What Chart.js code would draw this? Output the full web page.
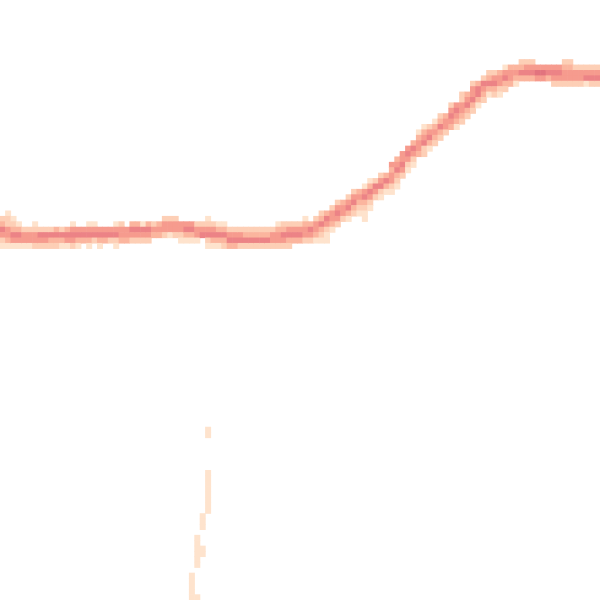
<!DOCTYPE html>
<html>
<head>
<meta charset="utf-8">
<script src="https://cdn.jsdelivr.net/npm/chart.js@4/dist/chart.umd.min.js"></script>
<style>
html,body{margin:0;padding:0;background:#fff;overflow:hidden;}
#wrap{width:600px;height:600px;position:relative;}
</style>
</head>
<body>
<div id="wrap"><canvas id="c"></canvas></div>
<script>
// Grid of the 2D density histogram (bins along x and y)
const gridCols = 111;
const gridRows = 111;

// Colour levels of the density (0 = empty)
const levelColors = ['rgba(0,0,0,0)', '#fee3cd', '#fdcfb6', '#fbb59e', '#f69b8e', '#ec8386', '#e2737e'];

// Per column: first occupied row (from top) and the density level of each consecutive row
const columnTop = [
  40,39,40,41,42,42,41,42,42,42, 42,42,42,41,42,42,41,41,42,42,
  42,41,41,42,41,41,41,41,41,41, 40,40,40,41,41,41,41,41,40,41,
  41,41,42,42,42,42,42,42,42,42, 42,41,41,41,41,41,40,41,40,39,
  39,38,37,37,36,35,35,34,33,33, 32,32,30,29,28,27,26,24,23,23,
  22,21,21,19,19,17,17,15,15,14, 13,13,13,12,12,12,11,11,11,12,
  12,12,12,12,11,11,12,12,12,12, 12
];
const columnLevels = [
  "235421","1224431","123541","13541","2441","2441","12442","2542","2542","2532",
  "3532","2531","3541","14542","4531","453","14531","1452","4531","453",
  "452","14521","2443","443","3542","3542","1542","3542","243","343",
  "2442","2441","2442","4421","4531","4531","2441","245","124521","24531",
  "13531","13532","2453","2453","2452","2352","2352","2352","2352","2352",
  "2442","13442","23542","24532","2453","2453","13442","3542","24431","235321",
  "354211","24431","24542","3442","24531","24532","34321","1453211","135421","2542",
  "24521","3531","434421","345321","44542","45421","35421","13443","134522","24531",
  "13432","23532","3442","24543","45431","224432","34532","244532","35531","25432",
  "23531","24532","34421","14532","3443","3431","2353","2453","2453","464",
  "464","453","4542","4542","23442","23442","2442","2442","2451","2452",
  "2452"
];

// Sparse isolated bins below the main band
const strayCols   = [38,38, 38,38,38,38,38,38,38,38, 37,37,37, 36,36,36,37,37,36,36,36, 35,35,35,35,35,36];
const strayRows   = [79,80, 87,88,89,90,91,92,93,94, 95,96,97, 99,100,101,101,102,102,103,104, 106,107,108,109,110,110];
const strayLevels = [1,1, 1,1,1,1,1,1,1,1, 1,1,1, 1,1,1,1,1,1,1,1, 1,1,1,1,1,1];

// Build the cell table from the arrays above
const cells = [];
columnLevels.forEach((s, c) => {
  for (let i = 0; i < s.length; i++) {
    const lv = +s[i];
    if (lv > 0) cells.push({x: c + 0.5, y: columnTop[c] + i + 0.5, v: lv});
  }
});
strayCols.forEach((c, i) => cells.push({x: c + 0.5, y: strayRows[i] + 0.5, v: strayLevels[i]}));

function cellRadius(ctx) {
  const a = ctx.chart.chartArea;
  if (!a) return 4;
  const side = Math.max((a.right - a.left) / gridCols, (a.bottom - a.top) / gridRows) + 0.6;
  return side / Math.SQRT2;
}

new Chart(document.getElementById('c'), {
  type: 'scatter',
  data: {
    datasets: [{
      data: cells,
      pointStyle: 'rect',
      borderWidth: 0,
      clip: false,
      backgroundColor: ctx => levelColors[ctx.raw ? ctx.raw.v : 0],
      borderColor: 'rgba(0,0,0,0)',
      pointRadius: cellRadius,
      pointHoverRadius: cellRadius
    }]
  },
  options: {
    responsive: true,
    maintainAspectRatio: false,
    animation: false,
    events: [],
    layout: {padding: 0, autoPadding: false},
    plugins: {legend: {display: false}, tooltip: {enabled: false}, title: {display: false}},
    scales: {
      x: {type: 'linear', min: 0, max: gridCols, display: false},
      y: {type: 'linear', min: 0, max: gridRows, reverse: true, display: false}
    }
  }
});
</script>
</body>
</html>
